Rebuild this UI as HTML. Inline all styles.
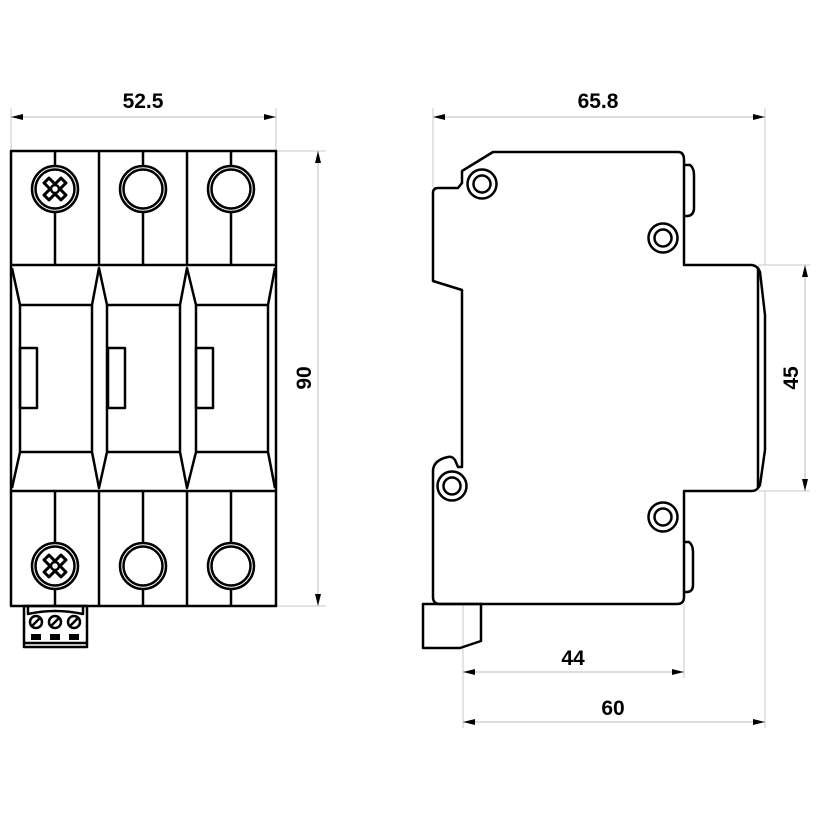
<!DOCTYPE html>
<html><head><meta charset="utf-8"><style>
html,body{margin:0;padding:0;background:#fff}
svg{display:block}
text{font-family:"Liberation Sans",Arial,sans-serif;font-weight:bold;font-size:21px;fill:#000}
</style></head><body>
<svg width="820" height="820" viewBox="0 0 820 820" xmlns="http://www.w3.org/2000/svg">
<defs>
<marker id="a" viewBox="0 0 12 6" refX="12" refY="3" markerWidth="12" markerHeight="6" orient="auto-start-reverse" markerUnits="userSpaceOnUse"><path d="M0,0 L12,3 L0,6 Z" fill="#000"/></marker>
<g id="scr">
<circle r="23" fill="#fff" stroke="#000" stroke-width="2.5"/>
<circle r="19.5" fill="#fff" stroke="#000" stroke-width="2.5"/>
<g transform="rotate(45)"><path d="M-3.5,-12 L3.5,-12 L3.5,-3.5 L12,-3.5 L12,3.5 L3.5,3.5 L3.5,12 L-3.5,12 L-3.5,3.5 L-12,3.5 L-12,-3.5 L-3.5,-3.5 Z" fill="#fff" stroke="#000" stroke-width="3" stroke-linejoin="round"/></g>
<circle r="4" fill="#fff" stroke="#000" stroke-width="2.5"/>
</g>
<g id="trm">
<circle r="23" fill="#fff" stroke="#000" stroke-width="2.5"/>
<circle r="19.5" fill="#fff" stroke="#000" stroke-width="2.5"/>
</g>
<g id="hole">
<circle r="14.5" fill="#fff" stroke="#000" stroke-width="2.5"/>
<circle r="8.5" fill="#fff" stroke="#000" stroke-width="2.5"/>
</g>
</defs>

<g stroke="#c8c8c8" stroke-width="1" fill="none">
<line x1="11" y1="108" x2="11" y2="151"/>
<line x1="276" y1="108" x2="276" y2="151"/>
<line x1="276" y1="151" x2="326" y2="151"/>
<line x1="276" y1="606" x2="326" y2="606"/>
<line x1="433" y1="108" x2="433" y2="188"/>
<line x1="765" y1="108" x2="765" y2="265"/>
<line x1="758" y1="265" x2="810" y2="265"/>
<line x1="758" y1="491" x2="810" y2="491"/>
<line x1="463" y1="604" x2="463" y2="728"/>
<line x1="684" y1="604" x2="684" y2="678"/>
<line x1="765" y1="491" x2="765" y2="728"/>
</g>
<g stroke="#bbb" stroke-width="1" fill="none">
<line x1="11" y1="117" x2="276" y2="117" marker-start="url(#a)" marker-end="url(#a)"/>
<line x1="318" y1="151" x2="318" y2="606" marker-start="url(#a)" marker-end="url(#a)"/>
<line x1="433" y1="117" x2="765" y2="117" marker-start="url(#a)" marker-end="url(#a)"/>
<line x1="805" y1="265" x2="805" y2="491" marker-start="url(#a)" marker-end="url(#a)"/>
<line x1="463" y1="672" x2="684" y2="672" marker-start="url(#a)" marker-end="url(#a)"/>
<line x1="463" y1="722" x2="765" y2="722" marker-start="url(#a)" marker-end="url(#a)"/>
</g>
<text x="143" y="108" text-anchor="middle">52.5</text>
<text x="598" y="108" text-anchor="middle">65.8</text>
<text x="573" y="665" text-anchor="middle">44</text>
<text x="613" y="715" text-anchor="middle">60</text>
<text transform="translate(311,378) rotate(-90)" text-anchor="middle">90</text>
<text transform="translate(798,378) rotate(-90)" text-anchor="middle">45</text>

<g stroke="#000" stroke-width="2.5" fill="none" stroke-linejoin="round">
<rect x="11" y="151" width="265" height="455"/>
<line x1="11" y1="265" x2="276" y2="265"/>
<line x1="11" y1="491" x2="276" y2="491"/>
<line x1="99" y1="151" x2="99" y2="265"/>
<line x1="187" y1="151" x2="187" y2="265"/>
<line x1="99" y1="491" x2="99" y2="606"/>
<line x1="187" y1="491" x2="187" y2="606"/>
<line x1="55" y1="151" x2="55" y2="265"/>
<line x1="143" y1="151" x2="143" y2="265"/>
<line x1="231" y1="151" x2="231" y2="265"/>
<line x1="55" y1="491" x2="55" y2="606"/>
<line x1="143" y1="491" x2="143" y2="606"/>
<line x1="231" y1="491" x2="231" y2="606"/>
<path d="M12,268 L20,305 L20,452 L12,488"/>
<path d="M275,268 L268,305 L268,452 L275,488"/>
<path d="M99,268 L92,305 L92,452 L99,488 L107,452 L107,305 Z"/>
<path d="M187,268 L180,305 L180,452 L187,488 L196,452 L196,305 Z"/>
<line x1="20" y1="305" x2="92" y2="305"/>
<line x1="107" y1="305" x2="180" y2="305"/>
<line x1="196" y1="305" x2="268" y2="305"/>
<line x1="20" y1="452" x2="92" y2="452"/>
<line x1="107" y1="452" x2="180" y2="452"/>
<line x1="196" y1="452" x2="268" y2="452"/>
<rect x="20" y="348" width="17" height="60"/>
<rect x="108" y="348" width="17" height="60"/>
<rect x="196" y="348" width="17" height="60"/>
<rect x="24" y="606" width="63" height="41"/>
<line x1="24" y1="643" x2="87" y2="643"/>
<path d="M28,606 L28,614 Q55,608 83,614 L83,606"/>
</g>
<use href="#scr" x="55" y="189"/>
<use href="#trm" x="143" y="189"/>
<use href="#trm" x="231" y="189"/>
<use href="#scr" x="55" y="566"/>
<use href="#trm" x="143" y="566"/>
<use href="#trm" x="231" y="566"/>
<g stroke="#000" stroke-width="2.5" fill="#fff">
<circle cx="36" cy="622" r="6"/>
<circle cx="55" cy="622" r="6"/>
<circle cx="74" cy="622" r="6"/>
</g>
<g stroke="#000" stroke-width="2.5">
<line x1="32" y1="626" x2="40" y2="618"/>
<line x1="51" y1="626" x2="59" y2="618"/>
<line x1="70" y1="626" x2="78" y2="618"/>
</g>
<g fill="#000">
<rect x="31" y="634" width="10" height="6"/>
<rect x="50" y="634" width="10" height="6"/>
<rect x="69" y="634" width="10" height="6"/>
</g>

<g stroke="#000" stroke-width="2.5" fill="none" stroke-linejoin="round">
<path d="M493,152 L678,152 Q684,152 684,160 L684,265 L752,265 Q758,266 760,272 L765,315 L765,450 L760,485 Q757,491 752,491 L684,491 L684,597 Q684,604 677,604 L440,604 Q433,604 433,597 L433,470 Q434,460 448,457 Q452,456 455,460 L458,467 L462,467 L462,290 L433,281 L433,193 Q433,188 438,188 L458,188 L462,183 L462,171 Z"/>
<path d="M758,268 L758,488"/>
<path d="M684,165 L690,165 Q694,168 694,175 L694,208 Q694,215 688,216 L684,216"/>
<path d="M684,542 L689,542 Q693,545 693,552 L693,585 Q693,591 688,592 L684,592"/>
<path d="M423,604 L481,604 L481,641 L460,648 L423,648 Z"/>
</g>
<use href="#hole" x="482" y="184"/>
<use href="#hole" x="663" y="238"/>
<use href="#hole" x="452" y="486"/>
<use href="#hole" x="663" y="517"/>
</svg>
</body></html>
